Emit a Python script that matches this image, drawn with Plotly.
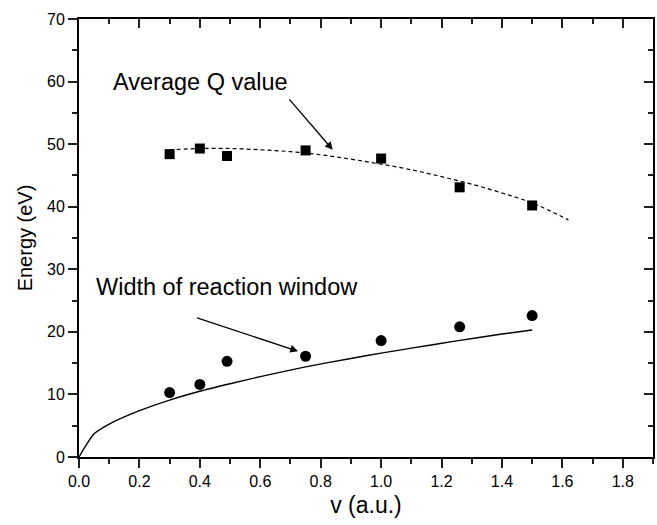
import plotly.graph_objects as go

# Measured points
v_points = [0.30, 0.40, 0.49, 0.75, 1.00, 1.26, 1.50]
q_values = [48.4, 49.3, 48.1, 49.0, 47.7, 43.1, 40.2]
width_values = [10.3, 11.6, 15.3, 16.1, 18.6, 20.8, 22.6]

# Fitted Q-value curve (dashed)
q_fit_v = [0.30, 0.40, 0.50, 0.60, 0.70, 0.80, 0.90, 1.00, 1.10, 1.20, 1.30, 1.40, 1.50, 1.62]
q_fit_e = [49.1, 49.3, 49.3, 49.1, 48.8, 48.3, 47.6, 46.8, 45.9, 44.8, 43.6, 42.2, 40.6, 37.9]

# Calculated reaction-window width (solid)
w_calc_v = [0.0, 0.05, 0.10, 0.20, 0.30, 0.40, 0.50, 0.60, 0.75, 0.90, 1.00, 1.10, 1.25, 1.40, 1.50]
w_calc_e = [0.0, 3.7, 5.25, 7.4, 9.1, 10.5, 11.7, 12.85, 14.4, 15.75, 16.6, 17.4, 18.55, 19.65, 20.3]

x_tick_step = 0.2
y_tick_step = 10

FONT = "Liberation Sans, Arial, Helvetica, sans-serif"
TICK_COLOR = "#1f1f1f"

fig = go.Figure()

fig.add_trace(go.Scatter(
    x=q_fit_v, y=q_fit_e, mode="lines",
    line=dict(color="black", width=1.2, dash="4px,3px", shape="spline"),
    hoverinfo="skip"))
fig.add_trace(go.Scatter(
    x=w_calc_v, y=w_calc_e, mode="lines",
    line=dict(color="black", width=1.4, shape="spline", smoothing=0.6),
    hoverinfo="skip"))
fig.add_trace(go.Scatter(
    x=v_points, y=q_values, mode="markers",
    marker=dict(symbol="square", size=10, color="black")))
fig.add_trace(go.Scatter(
    x=v_points, y=width_values, mode="markers",
    marker=dict(symbol="circle", size=11, color="black")))

# invisible trace to activate the mirrored top/right axes
fig.add_trace(go.Scatter(x=[0], y=[0], xaxis="x2", yaxis="y2", mode="markers",
                         marker=dict(opacity=0), hoverinfo="skip"))

line_style = dict(showline=True, linecolor="black", linewidth=2, showgrid=False, zeroline=False)
major_ticks = dict(tickcolor=TICK_COLOR, tickwidth=2, ticklen=9)


def minor_ticks(step, direction):
    return dict(dtick=step, ticks=direction, ticklen=5, tickwidth=2, tickcolor=TICK_COLOR)


fig.update_layout(
    width=657, height=525,
    margin=dict(l=79, r=4, t=19, b=68),
    paper_bgcolor="white", plot_bgcolor="white",
    showlegend=False,
    font=dict(family=FONT, color="black"),
    xaxis=dict(
        range=[0, 1.9], tick0=0, dtick=x_tick_step, tickformat=".1f",
        ticks="outside", **major_ticks, **line_style,
        tickfont=dict(family=FONT, size=16, color="black"),
        minor=minor_ticks(x_tick_step / 2, "outside"),
        title=dict(text="v (a.u.)", font=dict(family=FONT, size=23), standoff=8)),
    yaxis=dict(
        range=[0, 70], tick0=0, dtick=y_tick_step,
        ticks="outside", **major_ticks, **line_style,
        tickfont=dict(family=FONT, size=16, color="black"),
        minor=minor_ticks(y_tick_step / 2, "outside"),
        title=dict(text="Energy (eV)", font=dict(family=FONT, size=20), standoff=9)),
    xaxis2=dict(
        overlaying="x", side="top", range=[0, 1.9], tick0=0, dtick=x_tick_step,
        showticklabels=False, ticks="inside", **major_ticks, **line_style,
        minor=minor_ticks(x_tick_step / 2, "inside")),
    yaxis2=dict(
        overlaying="y", side="right", range=[0, 70], tick0=0, dtick=y_tick_step,
        showticklabels=False, ticks="inside", **major_ticks, **line_style,
        minor=minor_ticks(y_tick_step / 2, "inside")),
)

fig.add_annotation(
    x=0.401, y=59.9, xref="x", yref="y", text="Average Q value", showarrow=False,
    font=dict(family=FONT, size=23.5, color="black"))
fig.add_annotation(
    x=0.840, y=49.1, ax=0.692, ay=57.4, xref="x", yref="y", axref="x", ayref="y",
    text="", showarrow=True, arrowhead=2, arrowsize=1.2, arrowwidth=1.3, arrowcolor="black")

fig.add_annotation(
    x=0.489, y=27.2, xref="x", yref="y", text="Width of reaction window", showarrow=False,
    font=dict(family=FONT, size=23.5, color="black"))
fig.add_annotation(
    x=0.725, y=16.9, ax=0.386, ay=22.3, xref="x", yref="y", axref="x", ayref="y",
    text="", showarrow=True, arrowhead=2, arrowsize=1.2, arrowwidth=1.3, arrowcolor="black")

fig.write_html("out.html")
